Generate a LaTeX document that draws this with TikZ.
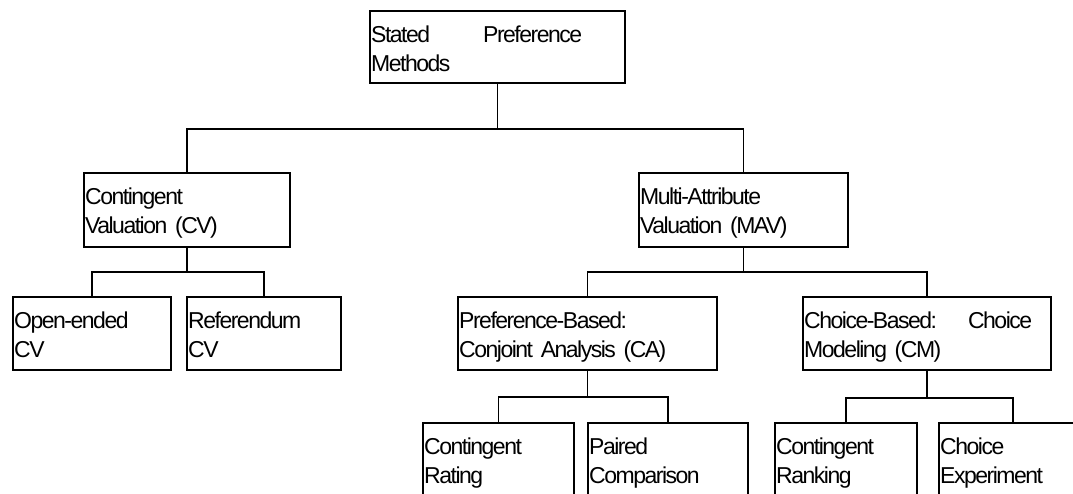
\documentclass[tikz,border=0pt]{standalone}
\usepackage{fontspec}
\setmainfont{Liberation Sans}[LetterSpace=-6.5, WordSpace=0.85]
\tikzset{
  box/.style={draw, line width=1.9pt, rectangle, inner sep=0pt, anchor=north west},
  lbl/.style={inner sep=0pt, anchor=base west, align=left,
    font=\fontsize{23}{29}\selectfont},
  wire/.style={line width=1.9pt}
}
\begin{document}
\begin{tikzpicture}[x=1pt, y=-1pt]
\useasboundingbox (0,0) rectangle (1073,493);
\clip (0,0) rectangle (1073,493);

% level 0
\node[box, minimum width=255, minimum height=72] (sp) at (369,10) {};
% level 1
\node[box, minimum width=206, minimum height=74] (cv) at (83,172) {};
\node[box, minimum width=209, minimum height=74] (mav) at (638,172) {};
% level 2
\node[box, minimum width=158, minimum height=73] (oe) at (12,296) {};
\node[box, minimum width=154, minimum height=73] (ref) at (186,296) {};
\node[box, minimum width=259, minimum height=73] (ca) at (457,296) {};
\node[box, minimum width=248, minimum height=73] (cm) at (802,296) {};
% level 3 (running past the lower edge)
\node[box, minimum width=151, minimum height=100] (cr) at (422,422) {};
\node[box, minimum width=160, minimum height=100] (pc) at (587,422) {};
\node[box, minimum width=142, minimum height=100] (crk) at (774,422) {};
\node[box, minimum width=148, minimum height=100] (ce) at (938,422) {};

% labels
\node[lbl, text width=211] (sp-t) at ([shift={(2,32)}]sp.north west) {Stated\hfill Preference\\Methods};
\node[lbl, text width=200] (cv-t) at ([shift={(2,32)}]cv.north west) {Contingent\\Valuation (CV)};
\node[lbl, text width=203] (mav-t) at ([shift={(2,32)}]mav.north west) {Multi-Attribute\\Valuation (MAV)};
\node[lbl, text width=152] (oe-t) at ([shift={(2,32)}]oe.north west) {Open-ended\\CV};
\node[lbl, text width=148] (ref-t) at ([shift={(2,32)}]ref.north west) {Referendum\\CV};
\node[lbl, text width=253] (ca-t) at ([shift={(2,32)}]ca.north west) {Preference-Based:\\Conjoint Analysis (CA)};
\node[lbl, text width=228] (cm-t) at ([shift={(2,32)}]cm.north west) {Choice-Based:\hfill Choice\\Modeling (CM)};
\node[lbl, text width=145] (cr-t) at ([shift={(2,32)}]cr.north west) {Contingent\\Rating};
\node[lbl, text width=154] (pc-t) at ([shift={(2,32)}]pc.north west) {Paired\\Comparison};
\node[lbl, text width=136] (crk-t) at ([shift={(2,32)}]crk.north west) {Contingent\\Ranking};
\node[lbl, text width=130] (ce-t) at ([shift={(2,32)}]ce.north west) {Choice\\Experiment};

% elbow connectors
\draw[wire] (sp.south) -- ++(0,45) -| (cv.north);
\draw[wire] (sp.south) -- ++(0,45) -| (mav.north);
\draw[wire] (cv.south) -- ++(0,24) -| (oe.north);
\draw[wire] (cv.south) -- ++(0,24) -| (ref.north);
\draw[wire] (mav.south) -- ++(0,24) -| (ca.north);
\draw[wire] (mav.south) -- ++(0,24) -| (cm.north);
\draw[wire] (ca.south) -- ++(0,26) -| (cr.north);
\draw[wire] (ca.south) -- ++(0,26) -| (pc.north);
\draw[wire] (cm.south) -- ++(0,27) -| (crk.north);
\draw[wire] (cm.south) -- ++(0,27) -| (ce.north);
\end{tikzpicture}
\end{document}
